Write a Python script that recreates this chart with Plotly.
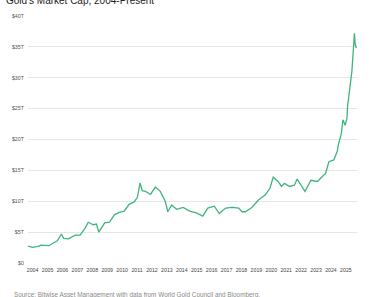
import plotly.graph_objects as go

# Decimal year positions and gold market cap (trillions USD)
years = [2003.70, 2004.00, 2004.43, 2004.55, 2005.09, 2005.32, 2005.65, 2005.93, 2006.08,
         2006.41, 2006.85, 2007.18, 2007.51, 2007.73, 2008.06, 2008.28, 2008.43, 2008.83,
         2009.15, 2009.48, 2009.81, 2010.14, 2010.47, 2010.80, 2011.02, 2011.20, 2011.35,
         2011.57, 2011.90, 2012.23, 2012.56, 2012.89, 2013.06, 2013.32, 2013.65, 2014.09,
         2014.53, 2014.97, 2015.41, 2015.74, 2016.18, 2016.51, 2016.94, 2017.38, 2017.82,
         2018.04, 2018.26, 2018.70, 2019.14, 2019.58, 2019.91, 2020.13, 2020.46, 2020.68,
         2020.89, 2021.22, 2021.55, 2021.73, 2021.99, 2022.26, 2022.65, 2023.09, 2023.42,
         2023.64, 2023.86, 2024.19, 2024.41, 2024.52, 2024.70, 2024.80, 2024.95, 2025.07,
         2025.11, 2025.24, 2025.33, 2025.40, 2025.50, 2025.57, 2025.62, 2025.70]
market_cap = [2.75, 2.54, 2.75, 2.90, 2.80, 3.08, 3.60, 4.70, 4.00,
              3.90, 4.50, 4.50, 5.60, 6.60, 6.20, 6.30, 5.00, 6.50,
              6.60, 7.80, 8.20, 8.40, 9.50, 9.90, 10.60, 12.95, 11.70,
              11.60, 11.10, 12.30, 11.60, 10.00, 8.30, 9.40, 8.70, 9.00,
              8.40, 8.10, 7.60, 8.90, 9.20, 8.00, 8.90, 9.00, 8.90,
              8.30, 8.30, 9.00, 10.20, 11.00, 12.10, 13.90, 13.20, 12.40,
              12.90, 12.40, 12.60, 13.60, 12.60, 11.60, 13.40, 13.20, 14.00,
              14.50, 16.40, 16.70, 18.00, 19.40, 21.00, 23.20, 22.30, 23.40,
              25.30, 28.20, 29.90, 31.00, 34.50, 37.20, 35.50, 34.80]

tick_years = list(range(2004, 2026))
tick_labels = [str(y) for y in tick_years]
y_ticks = [0, 5, 10, 15, 20, 25, 30, 35, 40]
y_tick_labels = ["$0", "$5T", "$10T", "$15T", "$20T", "$25T", "$30T", "$35T", "$40T"]

title_text = "Gold's Market Cap, 2004-Present"
source_text = "Source: Bitwise Asset Management with data from World Gold Council and Bloomberg."

fig = go.Figure()
fig.add_trace(go.Scatter(x=years, y=market_cap, mode="lines",
                         line=dict(color="#3fb47c", width=1.3), hoverinfo="skip"))

fig.update_layout(
    width=370, height=297,
    margin=dict(l=22, r=13, t=16, b=34),
    paper_bgcolor="white", plot_bgcolor="white",
    showlegend=False,
    font=dict(family="Liberation Sans, Arial, sans-serif"),
    xaxis=dict(range=[2003.69, 2025.745], tickvals=tick_years, ticktext=tick_labels,
               showgrid=False, zeroline=False, showline=False, ticks="",
               tickfont=dict(size=5.2, color="#444444"), ticklabelstandoff=3),
    yaxis=dict(range=[0, 40], tickvals=y_ticks, ticktext=y_tick_labels,
               showgrid=True, gridcolor="#e6e6e6", gridwidth=1, zeroline=False,
               showline=False, ticks="", tickfont=dict(size=5.3, color="#555555"),
               ticklabelstandoff=3),
    title=dict(text=title_text, x=6/370, xref="container", xanchor="left",
               y=1.0, yref="container", yanchor="middle",
               font=dict(size=10, color="#222222", family="Liberation Sans, Arial, sans-serif")),
    annotations=[dict(text=source_text, xref="paper", yref="paper", x=-16/335, y=-32/247,
                      xanchor="left", yanchor="middle", showarrow=False,
                      font=dict(size=6.4, color="#8a8a8a"))],
)

fig.write_html("out.html")
